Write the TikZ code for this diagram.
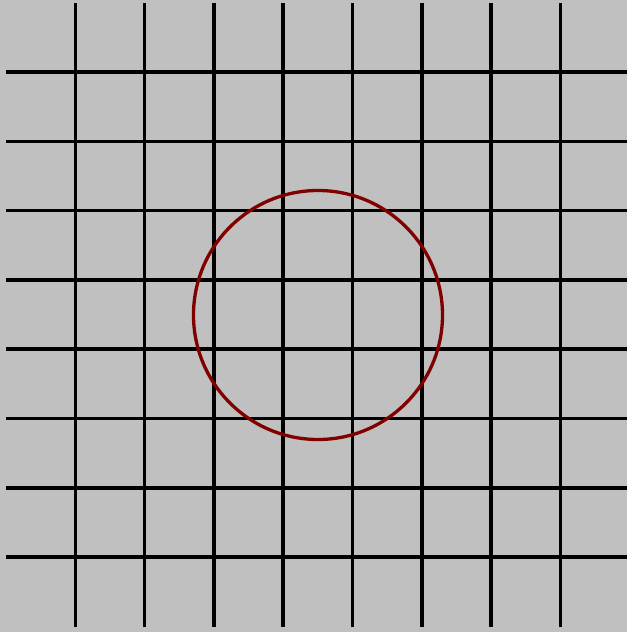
\documentclass[tikz,border=0pt]{standalone}
\definecolor{bggray}{HTML}{C0C0C0}
\definecolor{circred}{HTML}{800000}
\tikzset{gridline/.style={black,line width=3.6pt},
  ring/.style={circred,line width=3.3pt}}
\begin{document}
\begin{tikzpicture}[x=1pt,y=-1pt]
\fill[bggray] (0,0) rectangle (627,632);
\useasboundingbox (0,0) rectangle (627,632);
\foreach \k in {0,...,7}{
  \draw[gridline] ({75.3+69.3*\k},3) -- ({75.3+69.3*\k},627);
  \draw[gridline] (6,{72+69.3*\k}) -- (627,{72+69.3*\k});
}
\draw[ring] (318,315) circle[radius=124.5];
\end{tikzpicture}
\end{document}
